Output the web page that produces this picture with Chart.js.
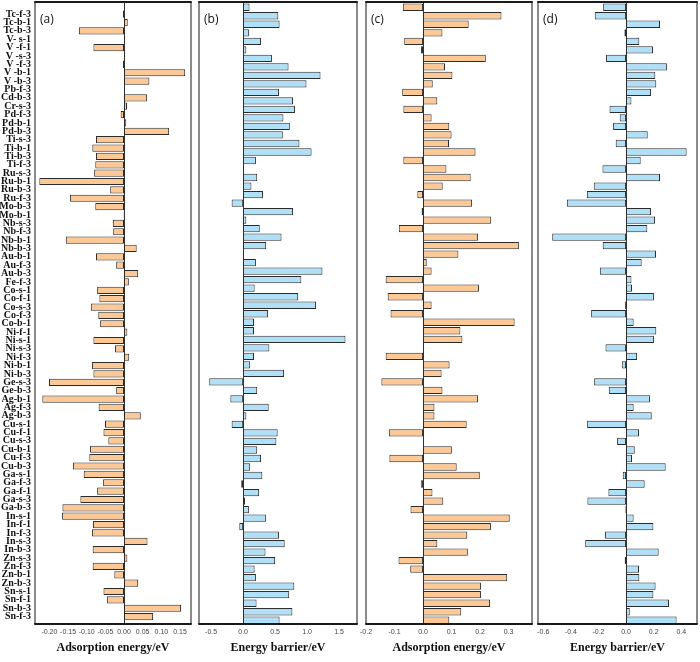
<!DOCTYPE html>
<html>
<head>
<meta charset="utf-8">
<script src="https://cdn.jsdelivr.net/npm/chart.js@4.4.1/dist/chart.umd.min.js"></script>
<style>
  html, body { margin:0; padding:0; background:#fff; }
  #wrap { position:relative; width:700px; height:662px; }
  #wrap canvas { position:absolute; left:0; top:0; }
</style>
</head>
<body>
<div id="wrap">
  <canvas id="ca" width="700" height="662"></canvas>
  <canvas id="cb" width="700" height="662"></canvas>
  <canvas id="cc" width="700" height="662"></canvas>
  <canvas id="cd" width="700" height="662"></canvas>
</div>
<script>
const categories = ['Tc-f-3','Tc-b-1','Tc-b-3','V- s-1','V -f-1','V -s-3','V -f-3','V -b-1','V -b-3','Pb-f-3',
  'Cd-b-3','Cr-s-3','Pd-f-3','Pd-b-1','Pd-b-3','Ti-s-3','Ti-b-1','Ti-b-3','Ti-f-3','Ru-s-3',
  'Ru-b-1','Ru-b-3','Ru-f-3','Mo-b-3','Mo-b-1','Nb-s-3','Nb-f-3','Nb-b-1','Nb-b-3','Au-b-1',
  'Au-f-3','Au-b-3','Fe-f-3','Co-s-1','Co-f-1','Co-s-3','Co-f-3','Co-b-1','Ni-f-1','Ni-s-1',
  'Ni-s-3','Ni-f-3','Ni-b-1','Ni-b-3','Ge-s-3','Ge-b-3','Ag-b-1','Ag-f-3','Ag-b-3','Cu-s-1',
  'Cu-f-1','Cu-s-3','Cu-b-1','Cu-f-3','Cu-b-3','Ga-s-1','Ga-f-3','Ga-f-1','Ga-s-3','Ga-b-3',
  'In-s-1','In-f-1','In-f-3','In-s-3','In-b-3','Zn-s-3','Zn-f-3','Zn-b-1','Zn-b-3','Sn-s-1',
  'Sn-f-1','Sn-b-3','Sn-f-3'];

// (a) adsorption energy / eV
const adsorptionA = [-0.003,0.010,-0.121,0.003,-0.082,0.003,-0.003,0.164,0.068,0.001,
  0.062,0.008,-0.009,0.006,0.121,-0.075,-0.085,-0.075,-0.077,-0.080,
  -0.227,-0.037,-0.145,-0.077,-0.001,-0.030,-0.029,-0.156,0.034,-0.075,
  -0.021,0.038,0.013,-0.072,-0.066,-0.089,-0.069,-0.064,0.009,-0.082,
  -0.024,0.014,-0.086,-0.082,-0.201,-0.021,-0.219,-0.068,0.045,-0.051,
  -0.055,-0.042,-0.091,-0.093,-0.137,-0.108,-0.056,-0.072,-0.117,-0.165,
  -0.166,-0.083,-0.086,0.063,-0.084,0.009,-0.084,-0.026,0.038,-0.055,
  -0.046,0.153,0.078];

// (b) energy barrier / eV
const barrierB = [0.10,0.55,0.57,0.09,0.28,0.05,0.45,0.71,1.21,0.99,
  0.56,0.78,0.81,0.63,0.73,0.62,0.88,1.07,0.20,0.01,
  0.22,0.13,0.31,-0.18,0.78,0.05,0.26,0.60,0.36,0.01,
  0.20,1.24,0.91,0.18,0.86,1.14,0.39,0.17,0.17,1.60,
  0.41,0.17,0.11,0.64,-0.53,0.22,-0.20,0.40,0.05,-0.18,
  0.54,0.52,0.22,0.28,0.11,0.30,-0.03,0.25,0.03,0.09,
  0.36,-0.06,0.56,0.65,0.35,0.50,0.18,0.20,0.80,0.72,
  0.21,0.77,0.57];

// (c) adsorption energy / eV
const adsorptionC = [-0.071,0.275,0.160,0.068,-0.066,-0.007,0.220,0.077,0.103,0.034,
  -0.073,0.050,-0.069,0.030,0.092,0.100,0.091,0.184,-0.069,0.082,
  0.167,0.069,-0.020,0.172,-0.005,0.239,-0.085,0.193,0.336,0.124,
  0.013,0.030,-0.131,0.196,-0.124,0.030,-0.114,0.321,0.131,0.138,
  0.000,-0.131,0.093,0.065,-0.146,0.068,0.193,0.040,0.040,0.153,
  -0.120,0.000,0.101,-0.118,0.118,0.199,-0.008,0.033,0.071,-0.044,
  0.304,0.238,0.155,0.050,0.157,-0.086,-0.045,0.295,0.203,0.203,
  0.235,0.134,0.092];

// (d) energy barrier / eV
const barrierD = [-0.166,-0.227,0.246,-0.012,0.096,0.195,-0.145,0.296,0.212,0.219,
  0.181,0.039,-0.120,-0.046,-0.094,0.157,-0.075,0.439,0.106,-0.171,
  0.246,-0.234,-0.284,-0.429,0.181,0.210,0.154,-0.535,-0.169,0.217,
  0.113,-0.190,0.039,0.043,0.202,-0.007,-0.253,0.055,0.219,0.202,
  -0.149,0.080,-0.031,0.007,-0.231,-0.125,0.173,0.055,0.186,-0.282,
  0.094,-0.065,0.063,0.043,0.287,-0.024,0.135,-0.128,-0.280,-0.005,
  0.055,0.198,-0.152,-0.296,0.236,-0.010,0.094,0.096,0.214,0.198,
  0.311,0.027,0.366];

const ticksA = [-0.20,-0.15,-0.10,-0.05,0,0.05,0.10,0.15];
const tickLabelsA = ['-0.20','-0.15','-0.10','-0.05','0.00','0.05','0.10','0.15'];
const ticksB = [-0.5,0,0.5,1.0,1.5];
const tickLabelsB = ['-0.5','0.0','0.5','1.0','1.5'];
const ticksC = [-0.2,-0.1,0,0.1,0.2,0.3];
const tickLabelsC = ['-0.2','-0.1','0.0','0.1','0.2','0.3'];
const ticksD = [-0.6,-0.4,-0.2,0,0.2,0.4];
const tickLabelsD = ['-0.6','-0.4','-0.2','0.0','0.2','0.4'];

const panelLetters = ['(a)','(b)','(c)','(d)'];
const axisTitles = ['Adsorption energy/eV','Energy barrier/eV','Adsorption energy/eV','Energy barrier/eV'];

const ORANGE = '#fcc996';
const BLUE = '#b0e0f8';
const W = 700, H = 662;

const panels = [
  {id:'ca', data:adsorptionA, color:ORANGE, ticks:ticksA, labels:tickLabelsA, min:-0.2386, max:0.1796, left:35, right:191, top:6, bottom:620.8, showY:true},
  {id:'cb', data:barrierB, color:BLUE, ticks:ticksB, labels:tickLabelsB, min:-0.69, max:1.78, left:199, right:357, top:3, bottom:624.5, showY:false},
  {id:'cc', data:adsorptionC, color:ORANGE, ticks:ticksC, labels:tickLabelsC, min:-0.20, max:0.382, left:366, right:532, top:3, bottom:624.5, showY:false},
  {id:'cd', data:barrierD, color:BLUE, ticks:ticksD, labels:tickLabelsD, min:-0.638, max:0.514, left:538, right:697, top:3, bottom:624.5, showY:false}
];

function framePlugin(letter) {
  return {
    id: 'frame',
    beforeDatasetsDraw(chart) {
      const {ctx, scales} = chart;
      const x0 = scales.x.getPixelForValue(0);
      ctx.save();
      ctx.strokeStyle = '#333';
      ctx.lineWidth = 1;
      ctx.beginPath();
      ctx.moveTo(Math.round(x0) + 0.5, 2);
      ctx.lineTo(Math.round(x0) + 0.5, 624);
      ctx.stroke();
      ctx.restore();
    },
    afterDraw(chart) {
      const {ctx, chartArea} = chart;
      const l = chartArea.left, r = chartArea.right, t = 2, b = 624;
      ctx.save();
      ctx.strokeStyle = '#666';
      ctx.lineWidth = 1.5;
      ctx.beginPath();
      ctx.moveTo(l, t); ctx.lineTo(l, b);
      ctx.moveTo(r, t); ctx.lineTo(r, b);
      ctx.stroke();
      ctx.strokeStyle = '#1a1a1a';
      ctx.lineWidth = 2;
      ctx.beginPath();
      ctx.moveTo(l - 0.75, t); ctx.lineTo(r + 0.75, t);
      ctx.moveTo(l - 0.75, b); ctx.lineTo(r + 0.75, b);
      ctx.stroke();
      ctx.fillStyle = '#111';
      ctx.font = '12px "Open Sans", "Liberation Sans", sans-serif';
      ctx.textBaseline = 'alphabetic';
      ctx.textAlign = 'left';
      ctx.fillText(letter, l + 5, 23);
      ctx.restore();
    }
  };
}

panels.forEach((p, i) => {
  const xAxisH = H - p.bottom;
  const tickPad = 628 - p.bottom;
  new Chart(document.getElementById(p.id), {
    type: 'bar',
    data: {
      labels: categories,
      datasets: [{
        data: p.data,
        backgroundColor: p.color,
        borderColor: '#2b2b2b',
        borderWidth: 1,
        borderSkipped: false,
        barPercentage: 0.86,
        categoryPercentage: 1
      }]
    },
    options: {
      indexAxis: 'y',
      responsive: false,
      animation: false,
      devicePixelRatio: 1,
      layout: { padding: { left: p.showY ? 0 : p.left, right: W - p.right, top: p.top, bottom: 0 } },
      plugins: { legend: { display: false }, tooltip: { enabled: false } },
      scales: {
        x: {
          type: 'linear',
          min: p.min, max: p.max,
          grid: { display: false, drawTicks: false },
          border: { display: false },
          afterBuildTicks: (s) => { s.ticks = p.ticks.map(v => ({ value: v })); },
          ticks: {
            autoSkip: false, maxRotation: 0,
            callback: (v, idx) => p.labels[idx],
            font: { family: '"Liberation Sans Narrow", "Liberation Sans", sans-serif', size: 7 },
            color: '#444',
            padding: tickPad
          },
          title: {
            display: true, text: axisTitles[i],
            font: { family: '"Liberation Serif", serif', weight: 'bold', size: 12 },
            color: '#111',
            padding: { top: 0, bottom: 7 }
          },
          afterFit: (s) => { s.height = xAxisH; }
        },
        y: {
          type: 'category',
          display: p.showY,
          grid: { display: false, drawTicks: false },
          border: { display: false },
          ticks: {
            autoSkip: false,
            font: { family: '"Liberation Serif", serif', weight: 'bold', size: 10 },
            color: '#111',
            padding: 4
          },
          afterFit: (s) => { if (p.showY) s.width = p.left; }
        }
      }
    },
    plugins: [framePlugin(panelLetters[i])]
  });
});
</script>
</body>
</html>
